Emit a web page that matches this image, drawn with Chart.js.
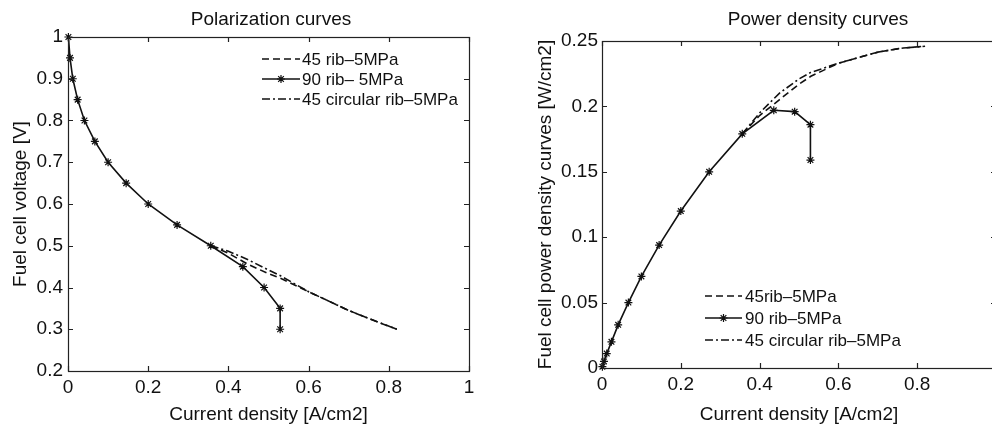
<!DOCTYPE html>
<html>
<head>
<meta charset="utf-8">
<script src="https://cdn.jsdelivr.net/npm/chart.js@4.4.1/dist/chart.umd.min.js"></script>
<style>
  html, body { margin: 0; padding: 0; background: #fff; }
  body { width: 992px; height: 431px; overflow: hidden; position: relative; }
  canvas { position: absolute; top: 0; }
  #polChart { left: 0; }
  #powChart { left: 496px; }
</style>
</head>
<body>
<canvas id="polChart" width="496" height="431"></canvas>
<canvas id="powChart" width="540" height="431"></canvas>
<script>
// values
const rib90Current = [0.001, 0.005, 0.012, 0.024, 0.041, 0.067, 0.1, 0.145, 0.2, 0.272, 0.356, 0.436, 0.489, 0.529, 0.529];
const rib90Voltage = [1.0, 0.95, 0.9, 0.85, 0.8, 0.75, 0.7, 0.65, 0.6, 0.55, 0.5, 0.45, 0.4, 0.35, 0.3];
const rib90Power = [0.001, 0.005, 0.011, 0.020, 0.033, 0.050, 0.070, 0.094, 0.120, 0.150, 0.179, 0.197, 0.196, 0.186, 0.159];

const rib45Current = [0.356, 0.40, 0.45, 0.50, 0.53, 0.60, 0.70, 0.76, 0.82];
const rib45Voltage = [0.5, 0.482, 0.455, 0.433, 0.422, 0.39, 0.345, 0.322, 0.3];
const rib45Power = [0.179, 0.193, 0.205, 0.217, 0.223, 0.233, 0.2415, 0.2445, 0.246];

const circ45Current = [0.356, 0.40, 0.45, 0.50, 0.53, 0.60, 0.70, 0.76, 0.82];
const circ45Voltage = [0.5, 0.487, 0.466, 0.442, 0.428, 0.39, 0.345, 0.322, 0.3];
const circ45Power = [0.179, 0.195, 0.210, 0.221, 0.226, 0.233, 0.2415, 0.2445, 0.246];

const polNames = ['45 rib\u20135MPa', '90 rib\u2013 5MPa', '45 circular rib\u20135MPa'];
const powNames = ['45rib\u20135MPa', '90 rib\u20135MPa', '45 circular rib\u20135MPa'];

const currentTicks = [0, 0.2, 0.4, 0.6, 0.8, 1];
const currentTickLabels = ['0', '0.2', '0.4', '0.6', '0.8', '1'];
const voltageTicks = [0.2, 0.3, 0.4, 0.5, 0.6, 0.7, 0.8, 0.9, 1];
const voltageTickLabels = ['0.2', '0.3', '0.4', '0.5', '0.6', '0.7', '0.8', '0.9', '1'];
const powerTicks = [0, 0.05, 0.1, 0.15, 0.2, 0.25];
const powerTickLabels = ['0', '0.05', '0.1', '0.15', '0.2', '0.25'];

const FONT = '"Liberation Sans", Arial, Helvetica, sans-serif';
Chart.defaults.font.family = FONT;
Chart.defaults.color = '#111';

const pts = (xs, ys) => xs.map((x, i) => ({ x: x, y: ys[i] }));

function drawStar(ctx, x, y, r) {
  ctx.beginPath();
  ctx.moveTo(x - r, y); ctx.lineTo(x + r, y);
  ctx.moveTo(x, y - r); ctx.lineTo(x, y + r);
  const d = r * 0.7071;
  ctx.moveTo(x - d, y - d); ctx.lineTo(x + d, y + d);
  ctx.moveTo(x - d, y + d); ctx.lineTo(x + d, y - d);
  ctx.stroke();
}

// matlab style box with inward ticks
const frame = {
  id: 'frame',
  afterDraw(chart) {
    const { ctx, chartArea: a, scales } = chart;
    ctx.save();
    ctx.strokeStyle = '#222';
    ctx.lineWidth = 1.2;
    ctx.strokeRect(a.left + 0.5, a.top + 0.5, a.right - a.left, a.bottom - a.top);
    ctx.beginPath();
    scales.x.ticks.forEach(t => {
      const px = Math.round(scales.x.getPixelForValue(t.value)) + 0.5;
      ctx.moveTo(px, a.bottom); ctx.lineTo(px, a.bottom - 5);
      ctx.moveTo(px, a.top); ctx.lineTo(px, a.top + 5);
    });
    scales.y.ticks.forEach(t => {
      const py = Math.round(scales.y.getPixelForValue(t.value)) + 0.5;
      ctx.moveTo(a.left, py); ctx.lineTo(a.left + 5, py);
      ctx.moveTo(a.right, py); ctx.lineTo(a.right - 5, py);
    });
    ctx.stroke();
    ctx.restore();
  }
};

const figLegend = {
  id: 'figLegend',
  afterDraw(chart, args, o) {
    const ctx = chart.ctx;
    ctx.save();
    chart.data.datasets.forEach((ds, i) => {
      const base = o.rows[i];
      const y = base - 6;
      ctx.strokeStyle = '#111';
      ctx.lineWidth = ds.borderWidth;
      ctx.setLineDash(ds.borderDash || []);
      ctx.beginPath(); ctx.moveTo(o.x0, y); ctx.lineTo(o.x1, y); ctx.stroke();
      ctx.setLineDash([]);
      if (ds.pointRadius) { ctx.lineWidth = 1.2; drawStar(ctx, (o.x0 + o.x1) / 2, y, ds.pointRadius); }
      ctx.fillStyle = '#111';
      ctx.font = '17px ' + FONT;
      ctx.textBaseline = 'alphabetic';
      ctx.fillText(ds.label, o.textX, base);
    });
    ctx.restore();
  }
};

const figTitle = {
  id: 'figTitle',
  afterDraw(chart, args, o) {
    const ctx = chart.ctx;
    ctx.save();
    ctx.fillStyle = '#111';
    ctx.font = '19px ' + FONT;
    ctx.textAlign = 'center';
    ctx.textBaseline = 'alphabetic';
    ctx.fillText(o.text, o.x, o.y);
    ctx.restore();
  }
};

function lineSet(label, data, dash, star) {
  return {
    label: label,
    data: data,
    showLine: true,
    borderColor: '#111',
    backgroundColor: '#111',
    borderWidth: 1.6,
    borderDash: dash,
    pointStyle: 'star',
    pointRadius: star ? 4 : 0,
    pointBorderWidth: 1.2,
    pointBorderColor: '#111',
    pointHoverRadius: 0,
    clip: 8
  };
}

function makeChart(id, cfg) {
  return new Chart(document.getElementById(id), {
    type: 'scatter',
    data: { datasets: cfg.datasets },
    options: {
      responsive: false,
      animation: false,
      events: [],
      layout: { padding: { top: cfg.top, right: cfg.right, left: 0, bottom: 0 } },
      plugins: {
        legend: { display: false },
        tooltip: { enabled: false },
        figLegend: cfg.legend,
        figTitle: cfg.title
      },
      scales: {
        x: {
          type: 'linear', min: 0, max: 1,
          afterBuildTicks: s => { s.ticks = currentTicks.map(v => ({ value: v })); },
          afterFit: s => { s.height = cfg.xHeight; },
          ticks: { callback: (v, i) => currentTickLabels[i], font: { size: 19 }, padding: 5, maxRotation: 0, autoSkip: false },
          grid: { display: false, drawTicks: false },
          border: { display: false },
          title: { display: true, text: 'Current density [A/cm2]', font: { size: 19 }, padding: { top: 0, bottom: 5 } }
        },
        y: {
          type: 'linear', min: cfg.yMin, max: cfg.yMax,
          afterBuildTicks: s => { s.ticks = cfg.yTicks.map(v => ({ value: v })); },
          afterFit: s => { s.width = cfg.yWidth; },
          ticks: { callback: (v, i) => cfg.yLabels[i], font: { size: 19 }, padding: cfg.yPad, autoSkip: false },
          grid: { display: false, drawTicks: false },
          border: { display: false },
          title: { display: true, text: cfg.yTitle, font: { size: 19 }, padding: { top: cfg.yTitlePad, bottom: 0 } }
        }
      }
    },
    plugins: [frame, figLegend, figTitle]
  });
}

makeChart('polChart', {
  datasets: [
    lineSet(polNames[0], pts(rib45Current, rib45Voltage), [7, 4], false),
    lineSet(polNames[1], pts(rib90Current, rib90Voltage), [], true),
    lineSet(polNames[2], pts(circ45Current, circ45Voltage), [8, 3, 2, 3], false)
  ],
  top: 37, right: 27, xHeight: 60, yWidth: 68, yPad: 5, yTitlePad: 9,
  yMin: 0.2, yMax: 1, yTicks: voltageTicks, yLabels: voltageTickLabels,
  yTitle: 'Fuel cell voltage [V]',
  legend: { x0: 262, x1: 300, textX: 302, rows: [65, 85, 105] },
  title: { text: 'Polarization curves', x: 271, y: 25 }
});

makeChart('powChart', {
  datasets: [
    lineSet(powNames[0], pts(rib45Current, rib45Power), [7, 4], false),
    lineSet(powNames[1], pts(rib90Current, rib90Power), [], true),
    lineSet(powNames[2], pts(circ45Current, circ45Power), [8, 3, 2, 3], false)
  ],
  top: 41, right: 40, xHeight: 63, yWidth: 106, yPad: 4, yTitlePad: 38,
  yMin: 0, yMax: 0.25, yTicks: powerTicks, yLabels: powerTickLabels,
  yTitle: 'Fuel cell power density curves [W/cm2]',
  legend: { x0: 209, x1: 246, textX: 249, rows: [302, 324, 346] },
  title: { text: 'Power density curves', x: 322, y: 25 }
});
</script>
</body>
</html>
